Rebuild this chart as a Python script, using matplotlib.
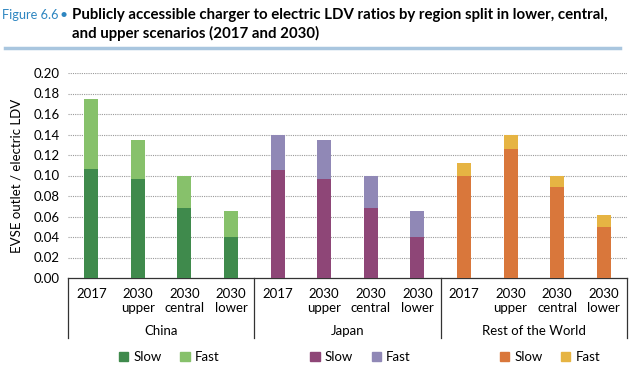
import matplotlib
matplotlib.use("Agg")
import matplotlib.pyplot as plt
import matplotlib.transforms as mtransforms
from matplotlib.patches import Patch
import numpy as np

plt.rcParams['font.family'] = ['Lato', 'DejaVu Sans']

regions = ["China", "Japan", "Rest of the World"]
scenarios = ["2017", "2030\nupper", "2030\ncentral", "2030\nlower"]
slow = {
    "China": [0.106, 0.097, 0.068, 0.040],
    "Japan": [0.105, 0.097, 0.068, 0.040],
    "Rest of the World": [0.100, 0.126, 0.089, 0.050],
}
fast = {
    "China": [0.069, 0.038, 0.032, 0.025],
    "Japan": [0.035, 0.038, 0.032, 0.025],
    "Rest of the World": [0.012, 0.014, 0.011, 0.011],
}
colors = {
    "China": ("#3f8a4c", "#87c16b"),
    "Japan": ("#8e4677", "#9088b6"),
    "Rest of the World": ("#d9773b", "#e6b443"),
}
yticks = [0.00, 0.02, 0.04, 0.06, 0.08, 0.10, 0.12, 0.14, 0.16, 0.18, 0.20]

fig = plt.figure(figsize=(6.4, 3.8), dpi=100)
ax = fig.add_axes([68/640, 1-278/380, (627-68)/640, (278-73)/380])

n = len(scenarios)
xt, xl = [], []
for gi, r in enumerate(regions):
    x = np.arange(n) + gi * n
    ax.bar(x, slow[r], width=0.3, color=colors[r][0], zorder=3)
    ax.bar(x, fast[r], bottom=slow[r], width=0.3, color=colors[r][1], zorder=3)
    xt += list(x)
    xl += scenarios

ax.set_xlim(-0.5, len(regions) * n - 0.5)
ax.set_ylim(0, 0.2)
ax.set_yticks(yticks)
ax.set_yticklabels([f"{v:.2f}" for v in yticks], fontsize=9.5)
ax.set_xticks(xt)
ax.set_xticklabels(xl, fontsize=9.5, linespacing=1.25)
ax.tick_params(axis='both', length=0, pad=6)
ax.tick_params(axis='x', pad=7)
for y in yticks[1:]:
    ax.axhline(y, color="#9a9a9a", lw=0.8, ls=(0, (1, 1)), zorder=1)
for s in ["left", "right", "top"]:
    ax.spines[s].set_visible(False)
ax.spines["bottom"].set_color("#333333")
ax.spines["bottom"].set_linewidth(0.9)

trans = mtransforms.blended_transform_factory(ax.transData, ax.transAxes)
for b in np.arange(len(regions) + 1) * n - 0.5:
    ax.plot([b, b], [0, -0.293], transform=trans, color="#333333", lw=0.9, clip_on=False)
for gi, r in enumerate(regions):
    ax.text(gi * n + (n - 1) / 2, -0.259, r, transform=trans, ha="center", va="center", fontsize=9.5)

ax.set_ylabel("EVSE outlet / electric LDV", fontsize=9.5, labelpad=8)

legend_shift = [5, 10, 13]
for gi, r in enumerate(regions):
    cx = ax.transData.transform((gi * n + (n - 1) / 2, 0))[0] + legend_shift[gi]
    cx = fig.transFigure.inverted().transform((cx, 0))[0]
    handles = [Patch(color=colors[r][0], label="Slow"), Patch(color=colors[r][1], label="Fast")]
    fig.legend(handles=handles, loc="center", bbox_to_anchor=(cx + 0.005, 1 - 357/380), ncol=2,
               frameon=False, fontsize=9.5, handlelength=0.7, handleheight=0.7,
               handletextpad=0.4, columnspacing=1.4)

fig.text(58/640, 1 - 15/380, "Figure 6.6", color="#2e86c1", fontsize=9.2, va="center", ha="right")
fig.text(64/640, 1 - 15/380, "\u2022", color="#2e86c1", fontsize=10, va="center", ha="center")
fig.text(72/640, 1 - 15/380, "Publicly accessible charger to electric LDV ratios by region split in lower, central,",
         fontsize=10.8, fontweight="bold", va="center")
fig.text(72/640, 1 - 33/380, "and upper scenarios (2017 and 2030)", fontsize=10.8, fontweight="bold", va="center")
fig.add_artist(plt.Line2D([5/640, 620/640], [1 - 48/380, 1 - 48/380], color="#a9c6df", lw=2.5))

fig.savefig("out.png", dpi=100)
